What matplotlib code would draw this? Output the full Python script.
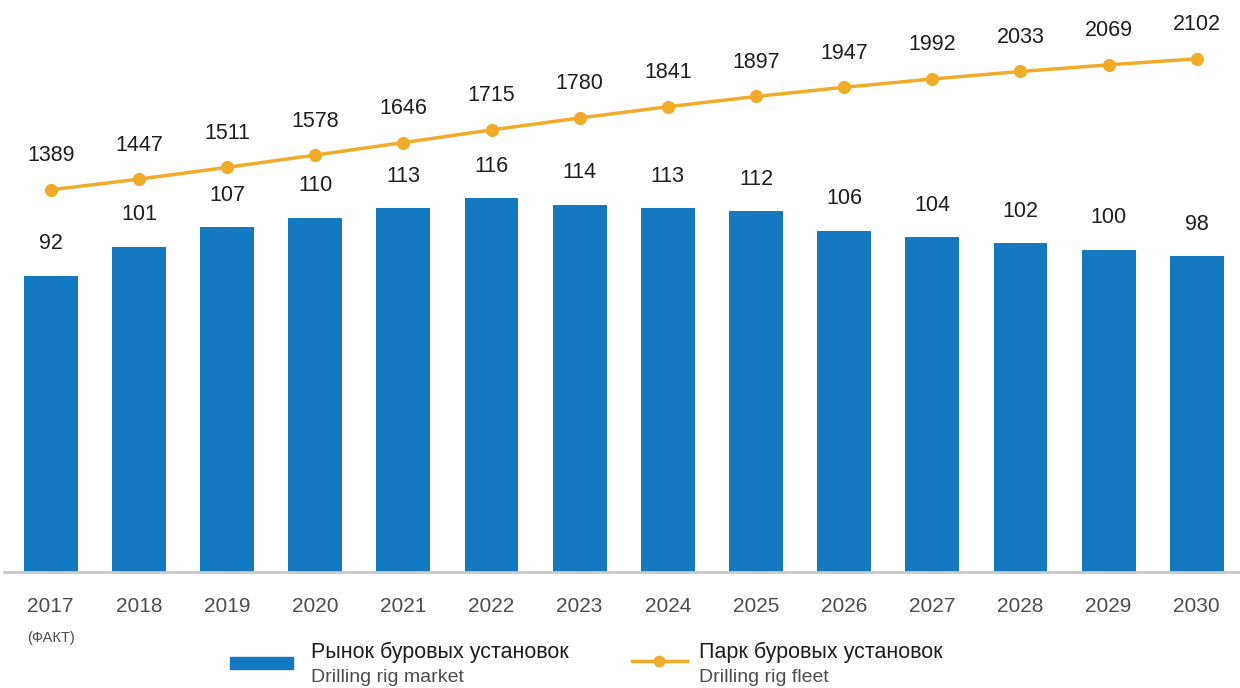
import matplotlib
matplotlib.use("Agg")
import matplotlib.pyplot as plt
from matplotlib.lines import Line2D
from matplotlib.patches import Rectangle

plt.rcParams["font.family"] = ["Liberation Sans", "DejaVu Sans"]

years = ["2017", "2018", "2019", "2020", "2021", "2022", "2023",
         "2024", "2025", "2026", "2027", "2028", "2029", "2030"]
market = [92, 101, 107, 110, 113, 116, 114, 113, 112, 106, 104, 102, 100, 98]
fleet = [1389, 1447, 1511, 1578, 1646, 1715, 1780, 1841, 1897, 1947,
         1992, 2033, 2069, 2102]

BLUE = "#1579c2"
ORANGE = "#f0ac28"
TEXT = "#1e1e1e"
GREY = "#4d4d4d"

W, H = 1240, 688
fig = plt.figure(figsize=(W / 100, H / 100), dpi=100)
ax = fig.add_axes([4 / W, (H - 572) / H, 1236 / W, 572 / H])
x = list(range(len(years)))

ax.bar(x, market, width=0.61, color=BLUE, zorder=2)
for xi, v in zip(x, market):
    ax.annotate(str(v), (xi, v), xytext=(0, 23), textcoords="offset points",
                ha="center", va="center", fontsize=15.5, color=TEXT)
ax.set_xlim(-0.53, 13.49)
ax.set_ylim(0, 177.6)
ax.set_yticks([])
for s in ["top", "right", "left"]:
    ax.spines[s].set_visible(False)
ax.spines["bottom"].set_color("#c8c8c8")
ax.spines["bottom"].set_linewidth(2)
ax.set_xticks(x)
ax.set_xticklabels(years, fontsize=15, color=GREY)
ax.tick_params(axis="x", length=0, pad=18)
ax.text(0, -20.5, "(ФАКТ)", ha="center", va="center", fontsize=10.5, color=GREY)

ax2 = ax.twinx()
ax2.plot(x, fleet, color=ORANGE, lw=2.5, marker="o", ms=8.5, zorder=3)
for xi, v in zip(x, fleet):
    ax2.annotate(str(v), (xi, v), xytext=(0, 24.5), textcoords="offset points",
                 ha="center", va="center", fontsize=15.5, color=TEXT)
ax2.set_ylim(-691, 2422)
ax2.set_yticks([])
for s in ax2.spines.values():
    s.set_visible(False)

# legend drawn by hand under the axis
fig.patches.append(Rectangle((230 / W, (H - 669) / H), 63 / W, 12 / H,
                             transform=fig.transFigure, color=BLUE))
fig.text(311 / W, (H - 652) / H, "Рынок буровых установок", fontsize=15.5,
         color=TEXT, va="center")
fig.text(311 / W, (H - 677) / H, "Drilling rig market", fontsize=14,
         color=GREY, va="center")
fig.lines.append(Line2D([632 / W, 687 / W], [(H - 661) / H] * 2,
                        transform=fig.transFigure, color=ORANGE, lw=2.5))
fig.lines.append(Line2D([659 / W], [(H - 661) / H], transform=fig.transFigure,
                        color=ORANGE, marker="o", ms=7.5))
fig.text(699 / W, (H - 652) / H, "Парк буровых установок", fontsize=15.5,
         color=TEXT, va="center")
fig.text(699 / W, (H - 677) / H, "Drilling rig fleet", fontsize=14,
         color=GREY, va="center")

fig.savefig("out.png", dpi=100)
